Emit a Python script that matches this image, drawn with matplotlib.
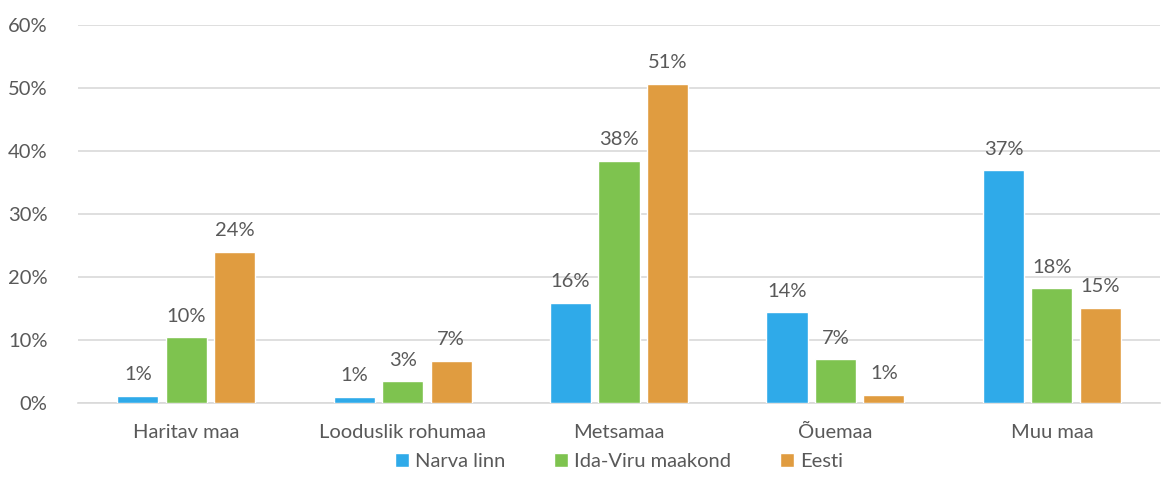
import matplotlib
matplotlib.use('Agg')
import matplotlib.pyplot as plt
import numpy as np

plt.rcParams['font.family'] = ['Lato', 'DejaVu Sans']

categories = ['Haritav maa', 'Looduslik rohumaa', 'Metsamaa', 'Õuemaa', 'Muu maa']
series = ['Narva linn', 'Ida-Viru maakond', 'Eesti']
narva = [1.1, 0.95, 15.9, 14.4, 36.9]
idaviru = [10.4, 3.4, 38.4, 6.9, 18.2]
eesti = [24.0, 6.7, 50.6, 1.3, 15.1]
colors = ['#2FAAE9', '#7EC34F', '#E09C40']

txt = '#595959'
fs = 14.5

fig = plt.figure(figsize=(11.61, 4.95), dpi=100)
ax = fig.add_axes([0.0672, 0.186, 0.932, 0.764])

x = np.arange(len(categories))
step = 0.224
w = 0.19
for i, (name, vals) in enumerate(zip(series, [narva, idaviru, eesti])):
    pos = x + (i - 1) * step
    ax.bar(pos, vals, width=w, color=colors[i], edgecolor='white',
           linewidth=1.0, label=name, zorder=3)
    for px, v in zip(pos, vals):
        ax.text(px, v + 2.0, '%d%%' % round(v), ha='center', va='bottom',
                fontsize=fs, color=txt)

ax.set_ylim(0, 60)
ax.set_xlim(-0.5, 4.5)
ax.set_yticks(range(0, 61, 10))
ax.set_yticklabels(['%d%%' % t for t in range(0, 61, 10)])
ax.set_xticks(x)
ax.set_xticklabels(categories)
ax.tick_params(axis='both', length=0, labelsize=fs, labelcolor=txt)
ax.tick_params(axis='x', pad=15)
ax.tick_params(axis='y', pad=22)
ax.grid(axis='y', color='#D9D9D9', linewidth=1.2, zorder=0)
for s in ['top', 'right', 'left']:
    ax.spines[s].set_visible(False)
ax.spines['bottom'].set_color('#D9D9D9')
ax.spines['bottom'].set_linewidth(1.2)

leg = ax.legend(loc='upper center', bbox_to_anchor=(0.5, -0.085), ncol=3,
                frameon=False, fontsize=fs, handlelength=0.7,
                handleheight=0.7, handletextpad=0.3, columnspacing=2.4)
for t in leg.get_texts():
    t.set_color(txt)

fig.savefig('out.png', dpi=100)
